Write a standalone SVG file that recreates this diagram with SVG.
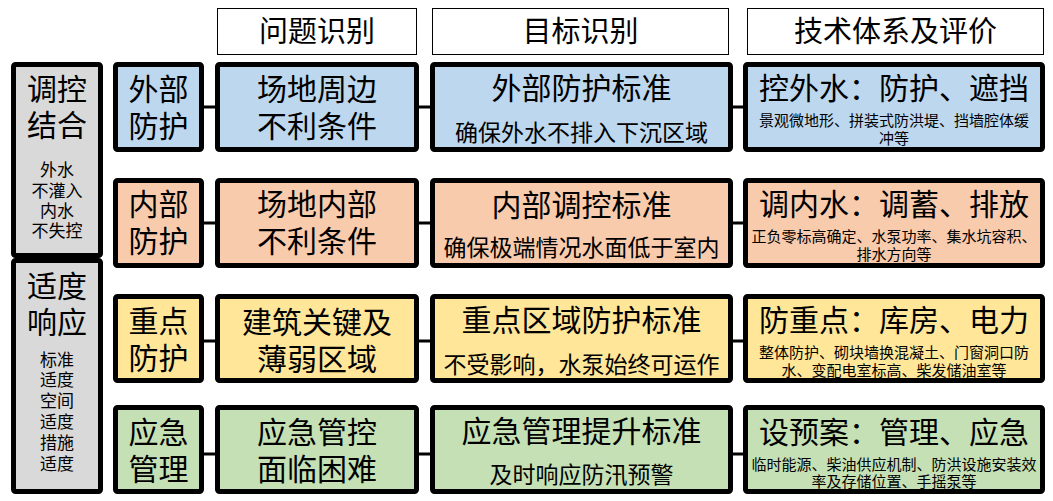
<svg xmlns="http://www.w3.org/2000/svg" width="1053" height="501" viewBox="0 0 1053 501">
<style>
text{font-family:"Liberation Sans","Noto Sans CJK SC",sans-serif;fill:#000;text-anchor:middle;dominant-baseline:central}
.hdr{fill:#fff;stroke:#000;stroke-width:1}
.box{stroke:#000;stroke-width:5}
.gray{fill:#D9D9D9}.blue{fill:#BDD7EE}.orange{fill:#F8CBAD}.yellow{fill:#FFE699}.green{fill:#C5E0B4}
.big{font-size:30px}.h{font-size:29px}.sub{font-size:23px}.sm{font-size:15px}.gs{font-size:17px}
.conn line{stroke:#000;stroke-width:3}
</style>
<rect width="1053" height="501" fill="#fff"/>
<g id="headers">
<g id="h1"><rect class="hdr" x="217.5" y="8.5" width="199" height="46"/><text class="h" x="317" y="31.5">问题识别</text></g>
<g id="h2"><rect class="hdr" x="432.5" y="8.5" width="296" height="46"/><text class="h" x="580.5" y="31.5">目标识别</text></g>
<g id="h3"><rect class="hdr" x="747.5" y="8.5" width="296" height="46"/><text class="h" x="895.5" y="31.5">技术体系及评价</text></g>
</g>
<g id="conn" class="conn">
<line x1="203" y1="107" x2="216" y2="107"/><line x1="418" y1="107" x2="431" y2="107"/><line x1="732" y1="107" x2="744" y2="107"/>
<line x1="203" y1="223" x2="216" y2="223"/><line x1="418" y1="223" x2="431" y2="223"/><line x1="732" y1="223" x2="744" y2="223"/>
<line x1="203" y1="341" x2="216" y2="341"/><line x1="418" y1="341" x2="431" y2="341"/><line x1="732" y1="341" x2="744" y2="341"/>
<line x1="203" y1="454" x2="216" y2="454"/><line x1="418" y1="454" x2="431" y2="454"/><line x1="732" y1="454" x2="744" y2="454"/>
</g>
<g id="g1"><rect class="box gray" x="13.5" y="64.5" width="87" height="191" rx="2"/>
<text class="big"><tspan x="57" y="88.5">调控</tspan><tspan x="57" y="125">结合</tspan></text>
<text class="gs"><tspan x="57" y="169.5">外水</tspan><tspan x="57" y="190.5">不灌入</tspan><tspan x="57" y="210.5">内水</tspan><tspan x="57" y="231">不失控</tspan></text></g>
<g id="g2"><rect class="box gray" x="13.5" y="260.5" width="87" height="231" rx="2"/>
<text class="big"><tspan x="57" y="285.5">适度</tspan><tspan x="57" y="321.5">响应</tspan></text>
<text class="gs"><tspan x="57" y="359.5">标准</tspan><tspan x="57" y="380">适度</tspan><tspan x="57" y="401">空间</tspan><tspan x="57" y="422">适度</tspan><tspan x="57" y="443">措施</tspan><tspan x="57" y="464">适度</tspan></text></g>

<g id="r1c2"><rect class="box blue" x="115.5" y="64.5" width="86" height="85" rx="2"/><text class="big"><tspan x="158.5" y="89">外部</tspan><tspan x="158.5" y="125.5">防护</tspan></text></g>
<g id="r1c3"><rect class="box blue" x="217.5" y="64.5" width="199" height="85" rx="2"/><text class="big"><tspan x="317" y="89">场地周边</tspan><tspan x="317" y="125.5">不利条件</tspan></text></g>
<g id="r1c4"><rect class="box blue" x="432.5" y="64.5" width="298" height="85" rx="2"/><text class="big" x="581.5" y="88.5">外部防护标准</text><text class="sub" x="581.5" y="132.5">确保外水不排入下沉区域</text></g>
<g id="r1c5"><rect class="box blue" x="745.5" y="64.5" width="297" height="85" rx="2"/><text class="big" x="894" y="88.5">控外水：防护、遮挡</text><text class="sm"><tspan x="894" y="120">景观微地形、拼装式防洪堤、挡墙腔体缓</tspan><tspan x="894" y="137.5">冲等</tspan></text></g>

<g id="r2c2"><rect class="box orange" x="115.5" y="180.5" width="86" height="85" rx="2"/><text class="big"><tspan x="158.5" y="204">内部</tspan><tspan x="158.5" y="241">防护</tspan></text></g>
<g id="r2c3"><rect class="box orange" x="217.5" y="180.5" width="199" height="85" rx="2"/><text class="big"><tspan x="317" y="204">场地内部</tspan><tspan x="317" y="241">不利条件</tspan></text></g>
<g id="r2c4"><rect class="box orange" x="432.5" y="180.5" width="298" height="85" rx="2"/><text class="big" x="581.5" y="205">内部调控标准</text><text class="sub" x="581.5" y="248">确保极端情况水面低于室内</text></g>
<g id="r2c5"><rect class="box orange" x="745.5" y="180.5" width="297" height="85" rx="2"/><text class="big" x="894" y="204.5">调内水：调蓄、排放</text><text class="sm"><tspan x="894" y="236">正负零标高确定、水泵功率、集水坑容积、</tspan><tspan x="894" y="253.5">排水方向等</tspan></text></g>

<g id="r3c2"><rect class="box yellow" x="115.5" y="296.5" width="86" height="84" rx="2"/><text class="big"><tspan x="158.5" y="321">重点</tspan><tspan x="158.5" y="358">防护</tspan></text></g>
<g id="r3c3"><rect class="box yellow" x="217.5" y="296.5" width="199" height="84" rx="2"/><text class="big"><tspan x="317" y="321.5">建筑关键及</tspan><tspan x="317" y="358.5">薄弱区域</tspan></text></g>
<g id="r3c4"><rect class="box yellow" x="432.5" y="296.5" width="298" height="84" rx="2"/><text class="big" x="581.5" y="320">重点区域防护标准</text><text class="sub" x="581.5" y="365">不受影响，水泵始终可运作</text></g>
<g id="r3c5"><rect class="box yellow" x="745.5" y="296.5" width="297" height="84" rx="2"/><text class="big" x="894" y="320.5">防重点：库房、电力</text><text class="sm"><tspan x="894" y="351.5">整体防护、砌块墙换混凝土、门窗洞口防</tspan><tspan x="894" y="369.5">水、变配电室标高、柴发储油室等</tspan></text></g>

<g id="r4c2"><rect class="box green" x="115.5" y="407.5" width="86" height="84" rx="2"/><text class="big"><tspan x="158.5" y="431.5">应急</tspan><tspan x="158.5" y="468.5">管理</tspan></text></g>
<g id="r4c3"><rect class="box green" x="217.5" y="407.5" width="199" height="84" rx="2"/><text class="big"><tspan x="317" y="431.5">应急管控</tspan><tspan x="317" y="468.5">面临困难</tspan></text></g>
<g id="r4c4"><rect class="box green" x="432.5" y="407.5" width="298" height="84" rx="2"/><text class="big" x="581.5" y="431.5">应急管理提升标准</text><text class="sub" x="581.5" y="475">及时响应防汛预警</text></g>
<g id="r4c5"><rect class="box green" x="745.5" y="407.5" width="297" height="84" rx="2"/><text class="big" x="894" y="432.5">设预案：管理、应急</text><text class="sm"><tspan x="894" y="463.5">临时能源、柴油供应机制、防洪设施安装效</tspan><tspan x="894" y="481">率及存储位置、手摇泵等</tspan></text></g>
</svg>
